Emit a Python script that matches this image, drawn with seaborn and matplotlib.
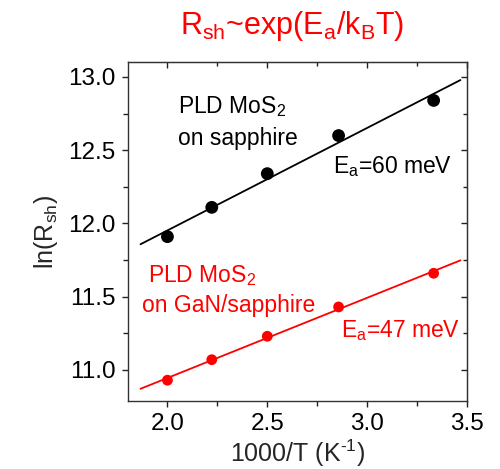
import numpy as np
import pandas as pd
import matplotlib
matplotlib.use("Agg")
import matplotlib.pyplot as plt
import seaborn as sns
from matplotlib.ticker import MultipleLocator

inv_T = [2.0, 2.222, 2.5, 2.857, 3.333]
ln_rsh_sapphire = [11.91, 12.11, 12.34, 12.60, 12.84]
ln_rsh_gan = [10.93, 11.07, 11.23, 11.43, 11.66]
fit_range = [1.865, 3.467]
x_ticks = [2.0, 2.5, 3.0, 3.5]
y_ticks = [11.0, 11.5, 12.0, 12.5, 13.0]

sns.set_style("white")
plt.rcParams['font.family'] = ['Liberation Sans', 'DejaVu Sans']
plt.rcParams['mathtext.fontset'] = 'custom'
plt.rcParams['mathtext.rm'] = 'Liberation Sans'
plt.rcParams['mathtext.it'] = 'Liberation Sans'
plt.rcParams['axes.unicode_minus'] = False

fig = plt.figure(figsize=(5.0, 4.69), dpi=100)
ax = fig.add_axes([0.255, 0.1456, 0.679, 0.7215])

df = pd.DataFrame({"x": inv_T, "s": ln_rsh_sapphire, "g": ln_rsh_gan})
fit_x = np.array(fit_range)
ps = np.polyfit(inv_T, ln_rsh_sapphire, 1)
pg = np.polyfit(inv_T, ln_rsh_gan, 1)
fits = pd.DataFrame({"x": fit_x, "s": np.polyval(ps, fit_x), "g": np.polyval(pg, fit_x)})

sns.lineplot(data=fits, x="x", y="s", color="black", lw=1.3, ax=ax)
sns.lineplot(data=fits, x="x", y="g", color="#ff0000", lw=1.3, ax=ax)
sns.scatterplot(data=df, x="x", y="s", color="black", s=85, edgecolor="none", ax=ax, zorder=3)
sns.scatterplot(data=df, x="x", y="g", color="#ff0000", s=60, edgecolor="none", ax=ax, zorder=3)

ax.set_xlim(1.8, 3.5)
ax.set_ylim(10.79, 13.10)
ax.set_xticks(x_ticks)
ax.set_yticks(y_ticks)
ax.set_xticklabels([f"{v:.1f}" for v in x_ticks])
ax.set_yticklabels([f"{v:.1f}" for v in y_ticks])
ax.xaxis.set_minor_locator(MultipleLocator(0.25))
ax.yaxis.set_minor_locator(MultipleLocator(0.25))
ax.tick_params(axis='both', which='major', labelsize=17.5, length=4.5, width=1.0, direction='out',
               bottom=True, left=True, colors='#222222', labelcolor='black', pad=4)
ax.tick_params(axis='both', which='minor', length=3.5, width=1.0, direction='out',
               bottom=True, left=True, colors='#222222')
for sp in ax.spines.values():
    sp.set_color('#333333')
    sp.set_linewidth(1.0)

# mirrored inward ticks on top/right
top = ax.secondary_xaxis('top')
top.set_xticks(x_ticks)
top.xaxis.set_minor_locator(MultipleLocator(0.25))
top.tick_params(which='major', direction='in', length=4.5, width=1.0, labeltop=False, colors='#222222')
top.tick_params(which='minor', direction='in', length=3, width=1.0, colors='#222222')
right = ax.secondary_yaxis('right')
right.set_yticks(y_ticks)
right.yaxis.set_minor_locator(MultipleLocator(0.25))
right.tick_params(which='major', direction='in', length=4.5, width=1.0, labelright=False, colors='#222222')
right.tick_params(which='minor', direction='in', length=3, width=1.0, colors='#222222')

ax.set_xlabel(r'1000/T (K$^{\text{-1}}$)', fontsize=18, labelpad=2)
ax.set_ylabel(r'ln(R$_{\mathregular{sh}}$)', fontsize=18, labelpad=6)

fig.text(0.584, 0.945, r'R$_{\mathregular{sh}}$~exp(E$_{\mathregular{a}}$/k$_{\mathregular{B}}$T)',
         color='#ff0000', fontsize=22, ha='center', va='center')

def px(xp, yp):
    return (xp / 500.0, 1 - yp / 469.0)

kw = dict(fontsize=16.5, transform=fig.transFigure, va='baseline', ha='left')
fig.text(*px(178, 113), r'PLD MoS$_{\mathregular{2}}$', color='black', **kw)
fig.text(*px(178, 145), 'on sapphire', color='black', **kw)
fig.text(*px(333, 173), r'E$_{\mathregular{a}}$=60 meV', color='black', **kw)
fig.text(*px(148, 282), r'PLD MoS$_{\mathregular{2}}$', color='#ff0000', **kw)
fig.text(*px(142, 312), 'on GaN/sapphire', color='#ff0000', **kw)
fig.text(*px(341, 337), r'E$_{\mathregular{a}}$=47 meV', color='#ff0000', **kw)

fig.savefig("out.png", dpi=100)
